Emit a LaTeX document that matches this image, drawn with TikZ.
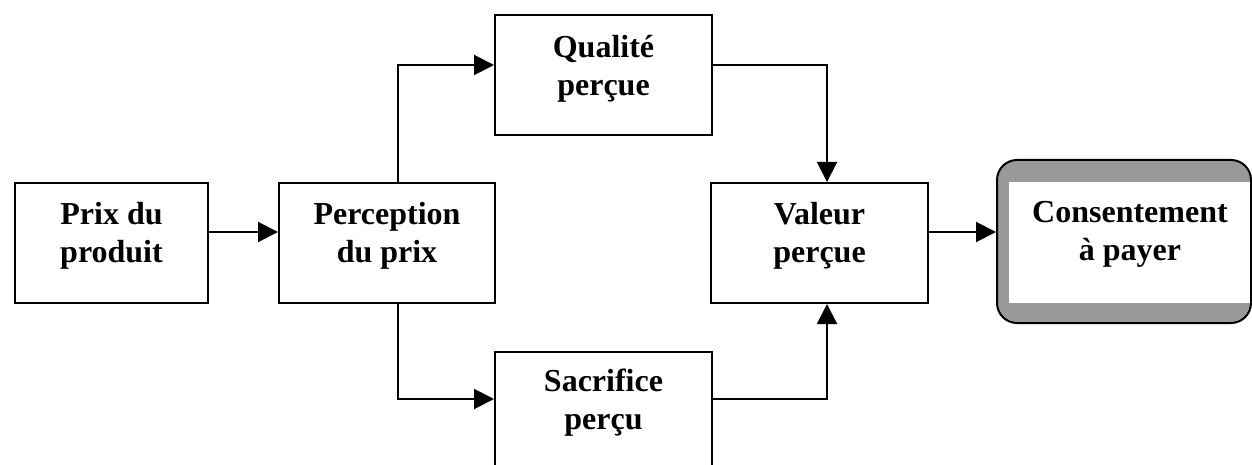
\documentclass[tikz,border=0pt]{standalone}
\usepackage{fontspec}
\setmainfont{Liberation Serif}
\usetikzlibrary{arrows.meta}
\begin{document}
\begin{tikzpicture}[x=1pt,y=-1pt,
  box/.style={draw=black,line width=2pt,fill=white,inner sep=0pt},
  lbl/.style={align=center,font=\fontsize{32}{38}\selectfont\bfseries,inner sep=0pt},
  arr/.style={line width=2pt,-{Triangle[length=20pt,width=20pt]}}]
\useasboundingbox (0,0) rectangle (1252,465);
\clip (0,0) rectangle (1252,465);
% boxes
\node[box,minimum width=193pt,minimum height=120pt] (prix) at (111.5,243) {};
\node[box,minimum width=216pt,minimum height=120pt] (perc) at (387,243) {};
\node[box,minimum width=217pt,minimum height=120pt] (qual) at (603.5,75) {};
\node[box,minimum width=217pt,minimum height=120pt] (sac) at (603.5,412) {};
\node[box,minimum width=217pt,minimum height=120pt] (val) at (819.5,243) {};
\node[draw=black,line width=2pt,fill=black!40,rounded corners=20pt,minimum width=254pt,minimum height=163pt,inner sep=0pt] (cons) at (1124,241.5) {};
\fill[white] (1009,182) rectangle (1250,303);
% labels
\node[lbl] (tprix) at (111.5,236) {Prix du\\produit};
\node[lbl] (tperc) at (387,236) {Perception\\du prix};
\node[lbl] (tqual) at (603.5,69) {Qualité\\perçue};
\node[lbl] (tsac) at (603.5,403) {Sacrifice\\perçu};
\node[lbl] (tval) at (819.5,236) {Valeur\\perçue};
\node[lbl] (tcons) at (1130,234) {Consentement\\à payer};
% connectors
\draw[arr] ([yshift=11pt]prix.east) -- ([yshift=11pt]perc.west);
\draw[arr] ([xshift=11pt]perc.north) |- ([yshift=10pt]qual.west);
\draw[arr] ([xshift=11pt]perc.south) |- ([yshift=13pt]sac.west);
\draw[arr] ([yshift=10pt]qual.east) -| ([xshift=7.5pt]val.north);
\draw[arr] ([yshift=13pt]sac.east) -| ([xshift=7.5pt]val.south);
\draw[arr] ([yshift=11pt]val.east) -- ([yshift=9.5pt]cons.west);
\end{tikzpicture}
\end{document}
